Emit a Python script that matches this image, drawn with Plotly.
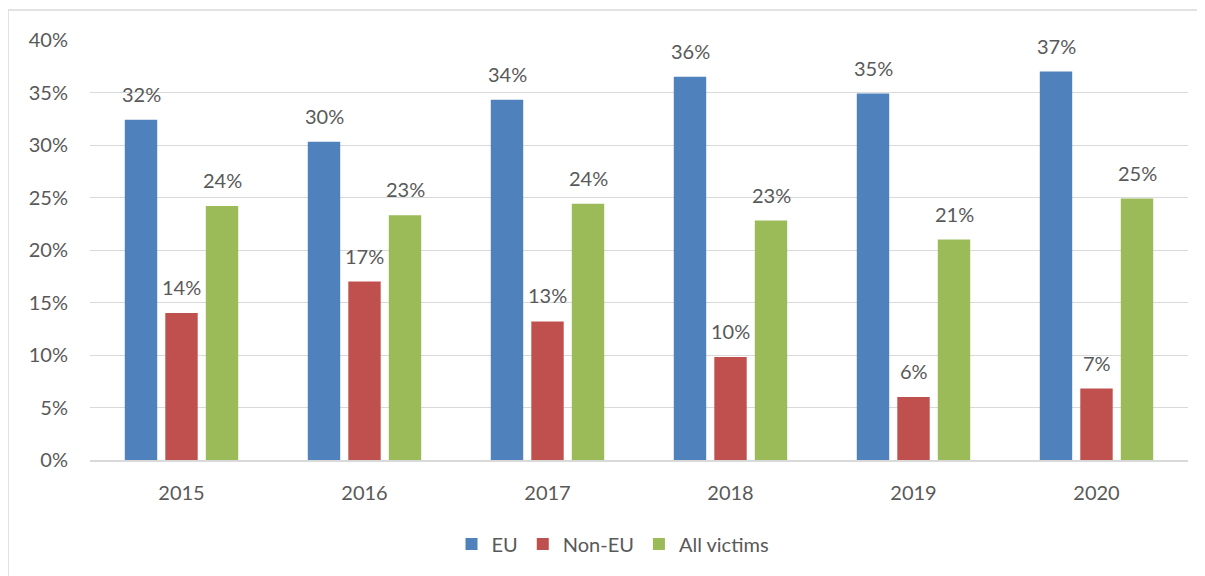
import plotly.graph_objects as go

years = ["2015", "2016", "2017", "2018", "2019", "2020"]
eu = [0.324, 0.303, 0.343, 0.365, 0.349, 0.370]
non_eu = [0.140, 0.170, 0.132, 0.098, 0.060, 0.068]
all_victims = [0.242, 0.233, 0.244, 0.228, 0.210, 0.249]

series = [("EU", eu, "#4f81bd"), ("Non-EU", non_eu, "#c0504d"), ("All victims", all_victims, "#9bbb59")]

OFF = 8  # page body margin
W, H = 1205 - OFF, 576 - OFF
ml, mt = 90 - OFF, 40 - OFF
mr = W - (1188 - OFF)
mb = H - (460 - OFF)
pw, ph = W - ml - mr, H - mt - mb

FONT = "Lato, Open Sans, sans-serif"
fig = go.Figure()
for name, vals, col in series:
    fig.add_trace(go.Bar(x=years, y=vals, name=name, marker=dict(color=col, line=dict(width=0))))

bargap = 0.336
slot = (1 - bargap) / 3
annotations = []
for k, (name, vals, col) in enumerate(series):
    off = (k - 1) * slot
    for i, v in enumerate(vals):
        annotations.append(dict(x=i + off, y=v, xref="x", yref="y", text=f"{round(v*100)}%",
                                showarrow=False, yanchor="bottom", yshift=12,
                                font=dict(family=FONT, size=20, color="#595959")))

fig.update_layout(
    width=W, height=H,
    margin=dict(l=ml, r=mr, t=mt, b=mb),
    paper_bgcolor="white", plot_bgcolor="white",
    barmode="group", bargap=bargap, bargroupgap=0.2,
    font=dict(family=FONT, size=20, color="#595959"),
    xaxis=dict(showgrid=False, showline=True, linecolor="#d9d9d9", linewidth=1.5,
               ticks="", ticklabelstandoff=14, range=[-0.5, 5.5]),
    yaxis=dict(range=[0, 0.4], dtick=0.05, tickformat=".0%", showgrid=True,
               gridcolor="#d9d9d9", gridwidth=1, zeroline=False, showline=False,
               ticks="", ticklabelstandoff=21),
    legend=dict(orientation="h", x=(613 - 90) / pw, xanchor="center", y=(460 - 544) / ph,
                yanchor="middle", font=dict(size=20, color="#595959"), itemwidth=30,
                traceorder="normal"),
    annotations=annotations,
    shapes=[dict(type="rect", xref="paper", yref="paper",
                 x0=(8 - 90) / pw, x1=(1215 - 90) / pw,
                 y0=(460 - 590) / ph, y1=(460 - 10) / ph,
                 line=dict(color="#d9d9d9", width=1.5), fillcolor="rgba(0,0,0,0)", layer="below")],
)

fig.write_html("out.html")
